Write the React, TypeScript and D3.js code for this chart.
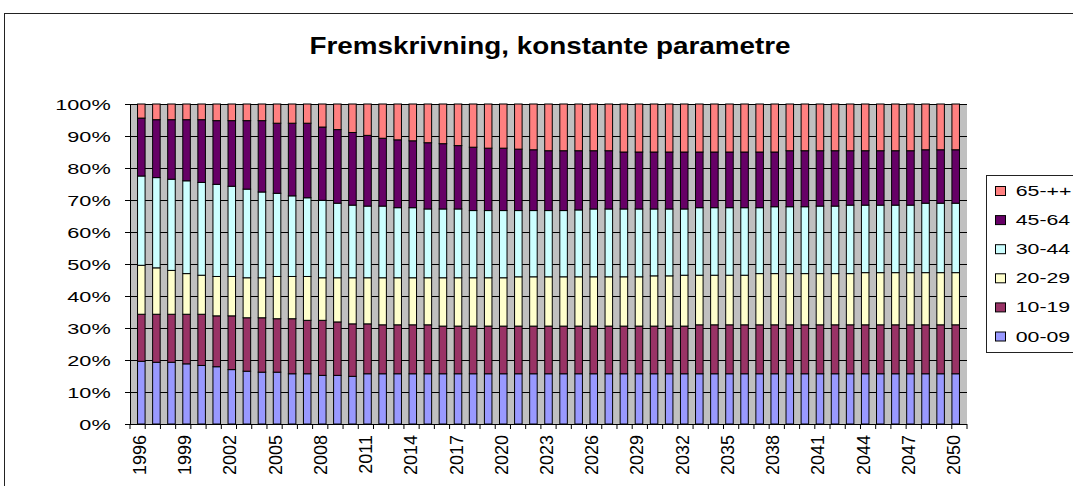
import React from "react";
import * as d3 from "d3";

const years: number[] = d3.range(1996, 2051);
const seriesNames = ["00-09", "10-19", "20-29", "30-44", "45-64", "65-++"];
const seriesColors = ["#9999FF", "#993366", "#FFFFCC", "#CCFFFF", "#660066", "#FF8080"];
const yTicks = [0, 10, 20, 30, 40, 50, 60, 70, 80, 90, 100];

const s0009 = [19.6,19.3,19.3,18.8,18.3,17.9,17.0,16.5,16.2,16.2,15.7,15.7,15.2,15.2,14.9,15.7,15.7,15.7,15.7,15.7,15.7,15.7,15.7,15.7,15.7,15.7,15.7,15.7,15.7,15.7,15.7,15.7,15.7,15.7,15.7,15.7,15.7,15.7,15.7,15.7,15.7,15.7,15.7,15.7,15.7,15.7,15.7,15.7,15.7,15.7,15.7,15.7,15.7,15.7,15.7];
const s1019 = [14.7,15.0,15.0,15.5,16.0,15.9,16.8,16.7,17.0,16.7,17.2,16.7,17.2,16.7,16.4,15.6,15.3,15.3,15.3,15.3,14.9,14.9,14.9,14.9,14.9,14.9,14.9,14.9,14.9,14.9,14.9,14.9,14.9,14.9,14.9,14.9,14.9,15.3,15.3,15.3,15.3,15.3,15.3,15.3,15.3,15.3,15.3,15.3,15.3,15.3,15.3,15.3,15.3,15.3,15.3];
const s2029 = [15.3,14.5,13.7,12.7,12.2,12.3,12.3,12.5,12.5,13.2,13.2,13.7,13.3,13.8,14.4,14.4,14.7,14.7,14.7,14.7,15.1,15.1,15.1,15.1,15.1,15.4,15.4,15.4,15.4,15.4,15.4,15.4,15.4,15.4,15.7,15.7,15.9,15.5,15.5,15.5,15.5,16.0,16.0,16.0,16.0,16.0,16.0,16.0,16.3,16.3,16.3,16.3,16.3,16.3,16.3];
const s3044 = [27.9,28.2,28.5,29.0,29.0,28.8,28.2,27.7,26.8,26.0,25.2,24.6,24.2,23.3,22.7,22.4,22.4,21.9,21.9,21.5,21.5,21.5,21.0,21.0,21.0,20.7,20.7,20.7,20.7,20.9,21.2,21.2,21.2,21.2,20.9,20.9,20.7,21.1,21.1,21.1,21.1,20.6,20.9,20.9,20.9,21.1,21.1,21.4,21.1,21.1,21.1,21.1,21.7,21.7,21.7];
const s4564 = [18.1,18.1,18.6,19.1,19.6,19.9,20.5,21.4,22.3,21.9,22.7,23.3,22.9,23.0,22.7,22.1,21.2,21.2,20.9,20.7,20.4,19.8,19.8,19.5,19.5,19.2,19.0,18.7,18.7,18.5,18.2,18.2,17.8,17.8,17.8,17.8,17.8,17.4,17.4,17.4,17.4,17.4,17.1,17.5,17.5,17.3,17.3,17.0,17.0,17.0,17.0,17.0,16.7,16.7,16.7];
const s65 = [4.4,4.9,4.9,4.9,4.9,5.2,5.2,5.2,5.2,6.0,6.0,6.0,7.2,8.0,8.9,9.8,10.7,11.2,11.5,12.1,12.4,13.0,13.5,13.8,13.8,14.1,14.3,14.6,14.6,14.6,14.6,14.6,15.0,15.0,15.0,15.0,15.0,15.0,15.0,15.0,15.0,15.0,15.0,14.6,14.6,14.6,14.6,14.6,14.6,14.6,14.6,14.6,14.3,14.3,14.3];

const seriesValues = [s0009, s1019, s2029, s3044, s4564, s65];

const W = 1073, H = 486;
const plot = { left: 130, right: 967, top: 104, bottom: 424 };

export default function App() {
  const rows = years.map((y, i) => {
    const r: any = { year: y };
    const tot = d3.sum(seriesValues, (s) => s[i]);
    seriesNames.forEach((n, k) => (r[n] = (seriesValues[k][i] / tot) * 100));
    return r;
  });
  const stack = d3.stack<any>().keys(seriesNames)(rows);
  const step = (plot.right - plot.left) / years.length;
  const xb = d3.scaleBand<number>().domain(years).range([plot.left, plot.right]).padding(0.5);
  const y = d3.scaleLinear().domain([0, 100]).range([plot.bottom, plot.top]);
  const font = "Arial, 'Liberation Sans', sans-serif";

  return (
    <svg width={W} height={H} style={{ position: "absolute", left: 0, top: 0, background: "#fff" }}>
      <rect x={4.5} y={13.5} width={W + 10} height={H + 10} fill="#fff" stroke="#222" strokeWidth={1} />
      <text transform={`translate(550,54) scale(1.16,1)`} textAnchor="middle" fontFamily={font} fontWeight="bold" fontSize={24}>
        Fremskrivning, konstante parametre
      </text>
      <rect x={plot.left} y={plot.top} width={plot.right - plot.left} height={plot.bottom - plot.top} fill="#C0C0C0" />
      {yTicks.map((t) => (
        <g key={t}>
          <line x1={plot.left - 5} x2={plot.right} y1={Math.round(y(t)) + 0.5} y2={Math.round(y(t)) + 0.5} stroke="#000" strokeWidth={1} />
          <text transform={`translate(110.7,${y(t) + 5.5}) scale(1.4,1)`} textAnchor="end" fontFamily={font} fontSize={15.5}>
            {t}%
          </text>
        </g>
      ))}
      {stack.map((layer, k) => (
        <g key={seriesNames[k]} fill={seriesColors[k]} stroke="#000" strokeWidth={1}>
          {layer.map((d: any, i: number) => (
            <rect
              key={i}
              x={xb(years[i])!}
              width={xb.bandwidth()}
              y={y(d[1])}
              height={y(d[0]) - y(d[1])}
            />
          ))}
        </g>
      ))}
      <line x1={plot.left + 0.5} x2={plot.left + 0.5} y1={plot.top} y2={plot.bottom} stroke="#000" />
      <line x1={plot.left} x2={plot.right} y1={plot.bottom + 0.5} y2={plot.bottom + 0.5} stroke="#000" />
      {years.map((yr, i) => (
        <line key={"t" + yr} x1={plot.left + i * step} x2={plot.left + i * step} y1={plot.bottom} y2={plot.bottom + 5} stroke="#000" />
      ))}
      <line x1={plot.right} x2={plot.right} y1={plot.bottom} y2={plot.bottom + 5} stroke="#000" />
      {years.filter((_, i) => i % 3 === 0).map((yr) => {
        const cx = xb(yr)! + xb.bandwidth() / 2;
        return (
          <text key={"l" + yr} transform={`translate(${cx + 4.5},${435}) rotate(-90)`} textAnchor="end" fontFamily={font} fontSize={18}>
            {yr}
          </text>
        );
      })}
      <rect x={986.5} y={175.5} width={100} height={177} fill="#fff" stroke="#222" />
      {seriesNames.slice().reverse().map((n, j) => {
        const k = seriesNames.length - 1 - j;
        const cy = 191 + j * 29.1;
        return (
          <g key={"lg" + n}>
            <rect x={995.5} y={cy - 4.5} width={10} height={9} fill={seriesColors[k]} stroke="#000" />
            <text transform={`translate(1015.7,${cy + 5}) scale(1.47,1)`} fontFamily={font} fontSize={14.5}>
              {n}
            </text>
          </g>
        );
      })}
    </svg>
  );
}
